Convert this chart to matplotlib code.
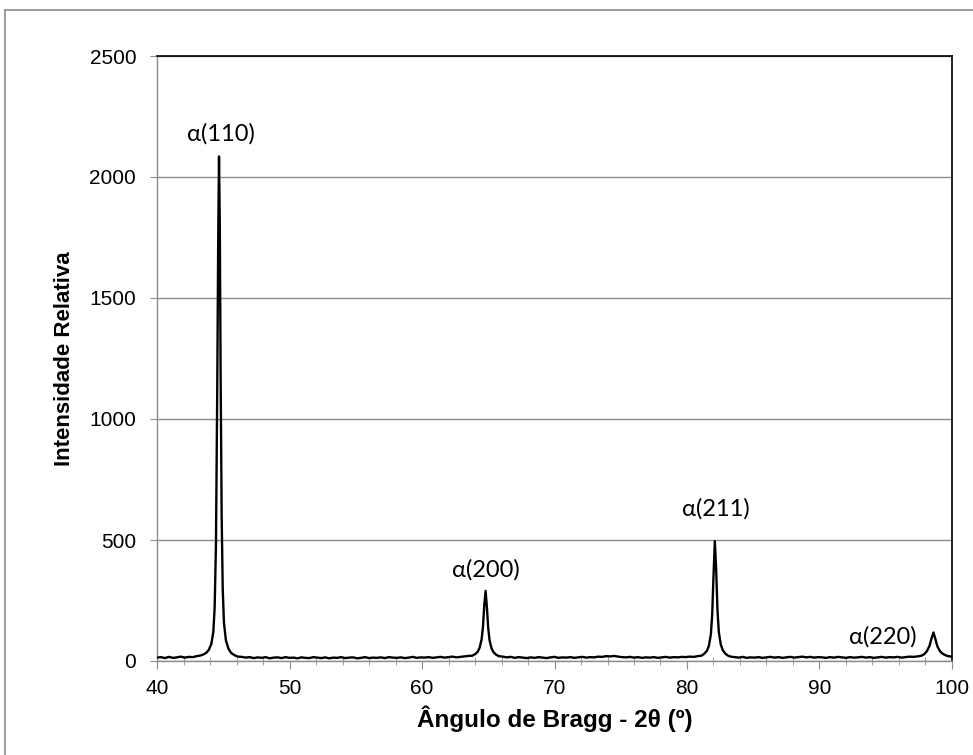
import numpy as np
import matplotlib
matplotlib.use("Agg")
from matplotlib import pyplot
from matplotlib.lines import Line2D
from matplotlib.ticker import MultipleLocator

# diffractogram, (2theta, intensity) pairs per segment
baseline_a = [(40.0, 14), (40.3, 16), (40.6, 12), (40.9, 17), (41.2, 13), (41.5, 15),
              (41.8, 18), (42.1, 14), (42.4, 17), (42.7, 16), (43.0, 20), (43.3, 23)]
peak_110 = [(43.5, 27), (43.7, 33), (43.9, 45), (44.1, 70), (44.25, 120), (44.35, 220),
            (44.45, 480), (44.55, 1150), (44.62, 1750), (44.68, 2085), (44.74, 1800),
            (44.8, 1200), (44.88, 600), (44.96, 300), (45.05, 160), (45.2, 85),
            (45.4, 50), (45.6, 33), (45.85, 24), (46.1, 18)]
baseline_b = [(46.4, 17), (46.7, 14), (47.0, 16), (47.3, 12), (47.6, 15), (47.9, 13),
              (48.2, 16), (48.5, 11), (48.8, 14), (49.1, 15), (49.4, 12), (49.7, 16),
              (50.0, 13), (50.3, 14), (50.6, 11), (50.9, 15), (51.2, 13), (51.5, 12),
              (51.8, 16), (52.1, 14), (52.4, 12), (52.7, 15), (53.0, 11), (53.3, 14),
              (53.6, 13), (53.9, 16), (54.2, 12), (54.5, 14), (54.8, 15), (55.1, 11),
              (55.4, 13), (55.7, 16), (56.0, 12), (56.3, 14), (56.6, 13), (56.9, 15),
              (57.2, 12), (57.5, 16), (57.8, 14), (58.1, 13), (58.4, 15), (58.7, 12),
              (59.0, 14), (59.3, 17), (59.6, 13), (59.9, 15), (60.2, 14), (60.5, 16),
              (60.8, 13), (61.1, 15), (61.4, 17), (61.7, 14), (62.0, 16), (62.3, 18),
              (62.6, 15), (62.9, 17), (63.2, 19), (63.5, 21)]
peak_200 = [(63.8, 22), (64.0, 28), (64.2, 38), (64.35, 55), (64.5, 90), (64.6, 140),
            (64.7, 230), (64.8, 290), (64.9, 220), (65.0, 135), (65.1, 85), (65.25, 52),
            (65.4, 36), (65.6, 26), (65.8, 20)]
baseline_c = [(66.1, 18), (66.4, 15), (66.7, 17), (67.0, 13), (67.3, 16), (67.6, 14),
              (67.9, 12), (68.2, 15), (68.5, 13), (68.8, 16), (69.1, 14), (69.4, 12),
              (69.7, 15), (70.0, 17), (70.3, 13), (70.6, 15), (70.9, 14), (71.2, 16),
              (71.5, 13), (71.8, 15), (72.1, 17), (72.4, 14), (72.7, 16), (73.0, 15),
              (73.3, 18), (73.6, 17), (73.9, 20), (74.2, 19), (74.5, 21), (74.8, 18),
              (75.1, 16), (75.4, 15), (75.7, 17), (76.0, 14), (76.3, 16), (76.6, 13),
              (76.9, 15), (77.2, 14), (77.5, 16), (77.8, 13), (78.1, 15), (78.4, 17),
              (78.7, 14), (79.0, 16), (79.3, 15), (79.6, 17), (79.9, 16), (80.2, 18),
              (80.5, 17), (80.8, 20)]
peak_211 = [(81.1, 22), (81.3, 30), (81.5, 42), (81.65, 62), (81.8, 110), (81.9, 190),
            (82.0, 350), (82.1, 495), (82.2, 380), (82.3, 210), (82.4, 120), (82.55, 68),
            (82.7, 45), (82.9, 30), (83.1, 22), (83.3, 18)]
baseline_d = [(83.6, 16), (83.9, 14), (84.2, 17), (84.5, 13), (84.8, 15), (85.1, 14),
              (85.4, 16), (85.7, 13), (86.0, 15), (86.3, 17), (86.6, 14), (86.9, 16),
              (87.2, 13), (87.5, 15), (87.8, 17), (88.1, 14), (88.4, 16), (88.7, 18),
              (89.0, 15), (89.3, 17), (89.6, 14), (89.9, 16), (90.2, 15), (90.5, 13),
              (90.8, 16), (91.1, 14), (91.4, 17), (91.7, 15), (92.0, 13), (92.3, 16),
              (92.6, 14), (92.9, 15), (93.2, 17), (93.5, 14), (93.8, 16), (94.1, 13),
              (94.4, 15), (94.7, 17), (95.0, 14), (95.3, 16), (95.6, 15), (95.9, 17),
              (96.2, 14), (96.5, 16), (96.8, 18), (97.1, 17), (97.4, 19)]
peak_220 = [(97.7, 22), (97.9, 28), (98.1, 40), (98.3, 62), (98.45, 92), (98.6, 118),
            (98.75, 90), (98.9, 60), (99.1, 40), (99.3, 30), (99.5, 24), (99.7, 20),
            (100.0, 18)]

segments = [baseline_a, peak_110, baseline_b, peak_200, baseline_c, peak_211,
            baseline_d, peak_220]

peak_labels = [u"\u03b1(110)", u"\u03b1(200)", u"\u03b1(211)", u"\u03b1(220)"]
label_x = [44.85, 64.85, 82.2, 94.8]
label_y = [2178, 376, 628, 99]

tick_font = ['Liberation Sans', 'DejaVu Sans']
label_font = ['Lato', 'DejaVu Sans']

W, H = 973, 755
fig = pyplot.figure(figsize=(W / 100.0, H / 100.0), dpi=100)
ax = fig.add_axes([157.0 / W, 1 - 661.0 / H, 795.0 / W, 605.0 / H])

two_theta, intensity = map(np.array, zip(*[p for seg in segments for p in seg]))
ax.plot(two_theta, intensity, color='k', lw=1.7, zorder=3)

ax.set_xlim(40, 100)
ax.set_ylim(0, 2500)
ax.xaxis.set_major_locator(MultipleLocator(10))
ax.xaxis.set_minor_locator(MultipleLocator(2))
ax.yaxis.set_major_locator(MultipleLocator(500))
ax.yaxis.grid(True, color='#8c8c8c', lw=1.0)
ax.set_axisbelow(True)

for side in ['top', 'right']:
    ax.spines[side].set_color('k')
    ax.spines[side].set_linewidth(1.2)
for side in ['left', 'bottom']:
    ax.spines[side].set_color('#8c8c8c')
    ax.spines[side].set_linewidth(1.0)

ax.tick_params(axis='x', which='major', direction='out', length=6, color='#8c8c8c',
               pad=7, labelsize=15)
ax.tick_params(axis='x', which='minor', direction='inout', length=6, color='#8c8c8c')
ax.tick_params(axis='y', which='major', direction='out', length=5, color='#8c8c8c',
               pad=10, labelsize=15)
for lab in ax.get_xticklabels() + ax.get_yticklabels():
    lab.set_family(tick_font)

ax.set_xlabel(u"\u00c2ngulo de Bragg - 2\u03b8 (\u00ba)", fontsize=17.5, fontweight='bold',
              family=tick_font, va='center')
ax.set_ylabel("Intensidade Relativa", fontsize=16, fontweight='bold', family=tick_font,
              va='center')
ax.xaxis.set_label_coords(0.5, -(719 - 661) / 605.0)
ax.yaxis.set_label_coords(-(157 - 64) / 795.0, 0.5)

for s, x, y in zip(peak_labels, label_x, label_y):
    ax.text(x, y, s, ha='center', va='center', fontsize=17, family=label_font)

# outer frame of the original chart area
fig.add_artist(Line2D([5.0 / W, 5.0 / W], [0, 1 - 10.0 / H], transform=fig.transFigure,
                      color='#8c8c8c', lw=1.2))
fig.add_artist(Line2D([5.0 / W, 1], [1 - 10.0 / H, 1 - 10.0 / H], transform=fig.transFigure,
                      color='#8c8c8c', lw=1.2))

pyplot.savefig('out.png', dpi=100)
